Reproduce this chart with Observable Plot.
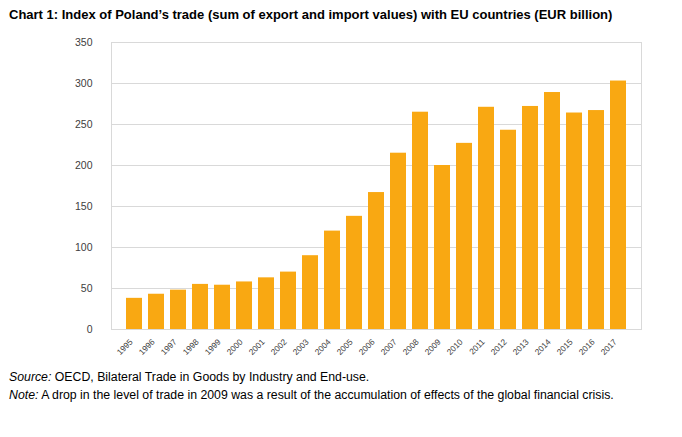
<!DOCTYPE html>
<html>
<head>
<meta charset="utf-8">
<script src="https://cdn.jsdelivr.net/npm/d3@7"></script>
<script src="https://cdn.jsdelivr.net/npm/@observablehq/plot@0.6"></script>
<style>
  html, body { margin: 0; padding: 0; background: #fff; }
  body { width: 682px; height: 437px; position: relative; overflow: hidden; font-family: "Liberation Sans", Arial, sans-serif; color: #000; }
  #title { position: absolute; left: 9px; top: 7px; font-size: 13px; font-weight: bold; white-space: nowrap; }
  #chart { position: absolute; left: 0; top: 30px; }
  .cap { position: absolute; left: 9px; font-size: 12.3px; white-space: nowrap; }
  #src { top: 370px; }
  #note { top: 388px; }
</style>
</head>
<body>
<div id="title">Chart 1: Index of Poland’s trade (sum of export and import values) with EU countries (EUR billion)</div>
<div id="chart"></div>
<div class="cap" id="src"><i>Source:</i> OECD, Bilateral Trade in Goods by Industry and End-use.</div>
<div class="cap" id="note"><i>Note:</i> A drop in the level of trade in 2009 was a result of the accumulation of effects of the global financial crisis.</div>
<script>
const years = ["1995","1996","1997","1998","1999","2000","2001","2002","2003","2004","2005","2006","2007","2008","2009","2010","2011","2012","2013","2014","2015","2016","2017"];
const tradeValues = [38, 43, 48, 55, 54, 58, 63, 70, 90, 120, 138, 167, 215, 265, 200, 227, 271, 243, 272, 289, 264, 267, 303];
const yTicks = [0, 50, 100, 150, 200, 250, 300, 350];

const data = years.map((y, i) => ({year: y, value: tradeValues[i]}));

const chart = Plot.plot({
  width: 682,
  height: 335,
  marginTop: 12,
  marginLeft: 111,
  marginRight: 41,
  marginBottom: 36,
  style: { fontFamily: "'Liberation Sans', Arial, sans-serif", background: "transparent" },
  x: { domain: years, padding: 0.28, label: null },
  y: { domain: [0, 350], ticks: yTicks, label: null },
  marks: [
    Plot.gridY(yTicks, { stroke: "#d9d9d9", strokeOpacity: 1 }),
    Plot.frame({ stroke: "#d9d9d9" }),
    Plot.barY(data, { x: "year", y: "value", fill: "#f9a812" }),
    Plot.axisY(yTicks, { tickSize: 0, tickPadding: 19, fontSize: 10.5, fill: "#404040", label: null }),
    Plot.axisX(years, { tickSize: 0, tickPadding: 11, dx: -3, tickRotate: -45, fontSize: 8.3, fill: "#404040", label: null })
  ]
});
document.getElementById("chart").appendChild(chart);
</script>
</body>
</html>
